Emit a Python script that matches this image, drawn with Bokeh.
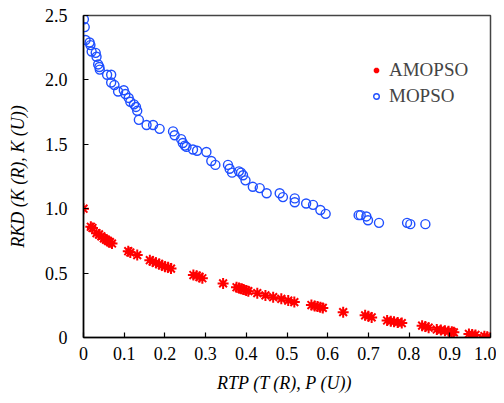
from bokeh.plotting import figure
from bokeh.models import FixedTicker, Legend, LegendItem
from bokeh.embed import file_html
from bokeh.resources import INLINE

# AMOPSO (red asterisks)
amopso_x = [0.000, 0.018, 0.022, 0.032, 0.038, 0.044, 0.050, 0.055, 0.060, 0.065, 0.070,
            0.110, 0.115, 0.132, 0.163, 0.170, 0.178, 0.186, 0.193, 0.200, 0.208, 0.215,
            0.270, 0.278, 0.285, 0.292, 0.343, 0.376, 0.382, 0.388, 0.393, 0.400, 0.405,
            0.427, 0.447, 0.466, 0.486, 0.503, 0.518, 0.560, 0.568, 0.575, 0.582, 0.588,
            0.638, 0.692, 0.700, 0.708, 0.746, 0.755, 0.763, 0.772, 0.782, 0.832, 0.840,
            0.848, 0.868, 0.878, 0.888, 0.897, 0.905, 0.910, 0.947, 0.955, 0.963, 0.985,
            0.992, 1.000]
amopso_y = [1.00, 0.86, 0.85, 0.81, 0.80, 0.785, 0.77, 0.76, 0.75, 0.74, 0.73,
            0.67, 0.66, 0.64, 0.60, 0.59, 0.58, 0.57, 0.56, 0.55, 0.545, 0.535,
            0.485, 0.48, 0.47, 0.46, 0.42, 0.39, 0.385, 0.378, 0.372, 0.365, 0.36,
            0.344, 0.327, 0.313, 0.300, 0.287, 0.275, 0.252, 0.245, 0.24, 0.235, 0.23,
            0.197, 0.172, 0.165, 0.156, 0.132, 0.127, 0.122, 0.117, 0.112, 0.092, 0.085,
            0.076, 0.062, 0.058, 0.053, 0.048, 0.044, 0.040, 0.028, 0.024, 0.020, 0.010,
            0.006, 0.000]

# MOPSO (blue circles)
mopso_x = [0.001, 0.003, 0.005, 0.015, 0.017, 0.020, 0.030, 0.032, 0.036, 0.039, 0.040,
           0.058, 0.068, 0.068, 0.076, 0.085, 0.099, 0.103, 0.111, 0.115, 0.124, 0.129,
           0.132, 0.136, 0.155, 0.171, 0.187, 0.220, 0.224, 0.240, 0.244, 0.249, 0.253,
           0.269, 0.279, 0.302, 0.314, 0.324, 0.355, 0.359, 0.365, 0.382, 0.387, 0.392,
           0.398, 0.416, 0.433, 0.450, 0.482, 0.490, 0.519, 0.519, 0.547, 0.564, 0.582,
           0.595, 0.676, 0.681, 0.695, 0.699, 0.726, 0.795, 0.803, 0.840]
mopso_y = [2.47, 2.41, 2.31, 2.29, 2.27, 2.22, 2.21, 2.18, 2.12, 2.10, 2.08,
           2.04, 2.04, 1.98, 1.96, 1.91, 1.92, 1.89, 1.86, 1.83, 1.81, 1.79,
           1.76, 1.69, 1.65, 1.65, 1.62, 1.60, 1.57, 1.54, 1.51, 1.49, 1.48,
           1.46, 1.45, 1.44, 1.37, 1.34, 1.34, 1.31, 1.28, 1.29, 1.28, 1.26,
           1.22, 1.17, 1.16, 1.12, 1.12, 1.09, 1.08, 1.05, 1.04, 1.03, 0.99,
           0.96, 0.95, 0.95, 0.94, 0.91, 0.89, 0.89, 0.88, 0.88]

x_ticks = [0, 0.1, 0.2, 0.3, 0.4, 0.5, 0.6, 0.7, 0.8, 0.9, 1.0]
x_labels = ["0", "0.1", "0.2", "0.3", "0.4", "0.5", "0.6", "0.7", "0.8", "0.9", "1.0"]
y_ticks = [0, 0.5, 1.0, 1.5, 2.0, 2.5]
y_labels = ["0", "0.5", "1.0", "1.5", "2.0", "2.5"]

FONT = "Times New Roman"

p = figure(width=496, height=395, x_range=(0, 1.0), y_range=(0, 2.5),
           output_backend="svg", toolbar_location=None,
           min_border_left=83, min_border_right=6, min_border_top=15, min_border_bottom=58)

p.xgrid.visible = False
p.ygrid.visible = False
p.outline_line_color = "#444444"
p.outline_line_width = 1.5
p.background_fill_color = "white"
p.border_fill_color = "white"

for ax, ticks, labels in ((p.xaxis[0], x_ticks, x_labels), (p.yaxis[0], y_ticks, y_labels)):
    ax.ticker = FixedTicker(ticks=ticks)
    ax.major_label_overrides = {t: l for t, l in zip(ticks, labels)}
    ax.major_tick_in = 5
    ax.major_tick_out = 0
    ax.minor_tick_in = 0
    ax.minor_tick_out = 0
    ax.axis_line_color = "black"
    ax.axis_line_width = 1.5
    ax.major_tick_line_color = "black"
    ax.major_tick_line_width = 1.2
    ax.major_label_text_font = FONT
    ax.major_label_text_font_size = "18px"
    ax.major_label_text_color = "black"
    ax.axis_label_text_font = FONT
    ax.axis_label_text_font_size = "18px"
    ax.axis_label_text_font_style = "italic"
    ax.axis_label_text_color = "black"

p.xaxis.axis_label = "RTP (T (R),  P (U))"
p.yaxis.axis_label = "RKD (K (R), K (U))"
p.xaxis.major_label_standoff = 9
p.yaxis.major_label_standoff = 16
p.xaxis.axis_label_standoff = 10
p.yaxis.axis_label_standoff = 14

r1 = p.scatter(amopso_x, amopso_y, marker="asterisk", size=11, line_color="#ff0000",
               line_width=2)
r2 = p.scatter(mopso_x, mopso_y, marker="circle", size=9, line_color="#1f4fff",
               fill_color=None, line_width=1.4)

legend = Legend(items=[LegendItem(label="AMOPSO", renderers=[r1]),
                       LegendItem(label="MOPSO", renderers=[r2])],
                location=(286, 230), border_line_color=None, background_fill_alpha=0,
                label_text_font=FONT, label_text_font_size="19px",
                glyph_width=14, glyph_height=18, spacing=4, padding=4,
                label_standoff=6)
p.add_layout(legend)

open("out.html", "w").write(file_html(p, INLINE))
